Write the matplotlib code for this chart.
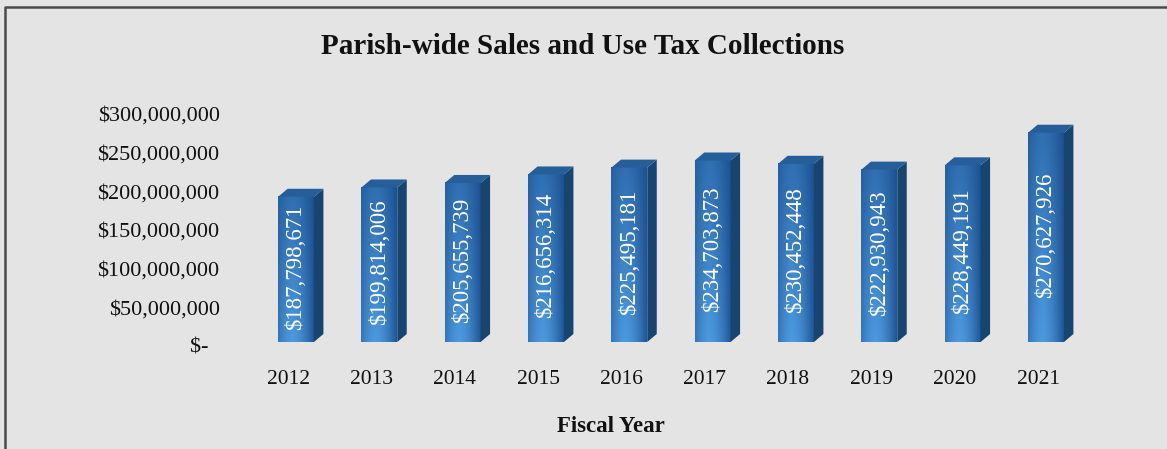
import numpy as np
import matplotlib.pyplot as plt
import matplotlib.transforms as mtransforms
from matplotlib.patches import Polygon
from matplotlib.lines import Line2D

years = ["2012", "2013", "2014", "2015", "2016", "2017", "2018", "2019", "2020", "2021"]
collections = [187798671, 199814006, 205655739, 216656314, 225495181,
               234703873, 230452448, 222930943, 228449191, 270627926]
tick_values = [0, 50e6, 100e6, 150e6, 200e6, 250e6, 300e6]
tick_labels = ["$-  ", "$50,000,000", "$100,000,000", "$150,000,000",
               "$200,000,000", "$250,000,000", "$300,000,000"]

SERIF = ["Liberation Serif", "DejaVu Serif"]
W, H, DPI = 1167, 449, 100

bar_w = 0.43          # front face width in category units
depth_px = (9.5, 8)   # 3d offset of side/top faces in pixels

fig = plt.figure(figsize=(W / DPI, H / DPI), dpi=DPI, facecolor="#e4e4e4")
ax = fig.add_axes([246 / W, (H - 342) / H, 850 / W, 232 / H])
ax.set_facecolor("none")
xlim = (-0.6, 9.6)
ylim = (0, 300e6)

# pixel offsets converted to data units
dx = depth_px[0] * (xlim[1] - xlim[0]) / 850
dy = depth_px[1] * (ylim[1] - ylim[0]) / 232


def front_gradient():
    t = np.linspace(0, 1, 60)
    s = np.linspace(0, 1, 120)[:, None]   # 0 = top row, 1 = bottom row
    across = 1 - np.clip(np.abs((t - 0.4) / 0.65), 0, 1) ** 1.6
    f = across[None, :] * (0.45 + 0.55 * s)
    dark = np.array([0.10, 0.30, 0.55])
    light = np.array([0.30, 0.60, 0.87])
    return dark + (light - dark) * f[..., None]


grad = front_gradient()

for i, (yr, v) in enumerate(zip(years, collections)):
    x0, x1 = i - bar_w / 2, i + bar_w / 2
    ax.imshow(grad, extent=(x0, x1, 0, v), aspect="auto",
              interpolation="bilinear", zorder=2)
    side = Polygon([(x1, 0), (x1 + dx, dy), (x1 + dx, v + dy), (x1, v)],
                   closed=True, facecolor="#18456f", edgecolor="none", zorder=2)
    top = Polygon([(x0, v), (x0 + dx, v + dy), (x1 + dx, v + dy), (x1, v)],
                  closed=True, facecolor="#265e99", edgecolor="none", zorder=2)
    ax.add_patch(side)
    ax.add_patch(top)
    ax.text(i, v / 2 + 3e6, f"${v:,.0f}", rotation=90, ha="center", va="center",
            color="white", fontsize=16.5, family=SERIF, zorder=3)

ax.set_xlim(*xlim)
ax.set_ylim(*ylim)
ax.set_xticks(range(len(years)))
ax.set_xticklabels(years, family=SERIF, fontsize=15.5)
ax.set_yticks(tick_values)
ax.set_yticklabels(tick_labels, family=SERIF, fontsize=16)
ax.tick_params(axis="both", length=0, colors="#111111")
ax.tick_params(axis="y", pad=19)
ax.tick_params(axis="x", pad=20)
for s in ax.spines.values():
    s.set_visible(False)

# nudge tick labels the way the 3d floor places them
for lab in ax.get_yticklabels():
    lab.set_transform(lab.get_transform() +
                      mtransforms.ScaledTranslation(0, -4 / DPI, fig.dpi_scale_trans))
for lab in ax.get_xticklabels():
    lab.set_transform(lab.get_transform() +
                      mtransforms.ScaledTranslation(-8 / DPI, 0, fig.dpi_scale_trans))

fig.text(583 / W, 1 - 47 / H, "Parish-wide Sales and Use Tax Collections",
         ha="center", va="center", fontsize=21, fontweight="bold", family=SERIF,
         color="#111111")
fig.text(611 / W, 1 - 427 / H, "Fiscal Year", ha="center", va="center",
         fontsize=16.5, fontweight="bold", family=SERIF, color="#111111")

# frame lines on the left and top edges
bx, by = 5 / W, 1 - 7 / H
fig.add_artist(Line2D([bx, bx, 1], [0, by, by], transform=fig.transFigure,
                      color="#4a4a4a", linewidth=1.8))

fig.savefig("out.png", dpi=DPI, facecolor=fig.get_facecolor())
